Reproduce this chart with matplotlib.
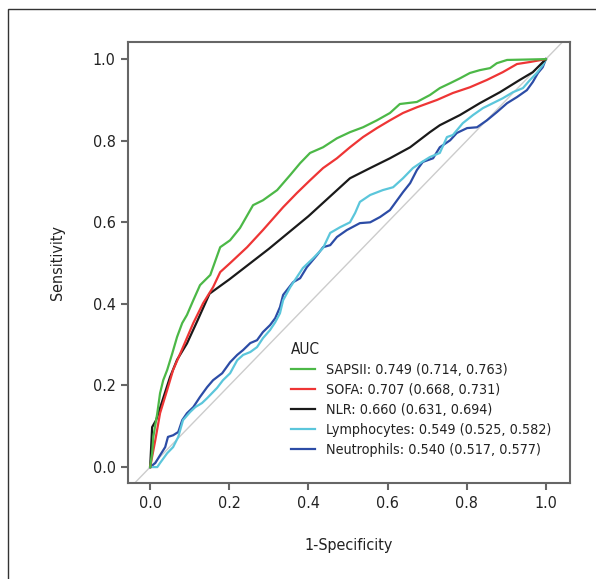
import matplotlib
matplotlib.use("Agg")
import matplotlib.pyplot as plt
from matplotlib.patches import Rectangle

plt.rcParams['font.family'] = ['DejaVu Sans']
plt.rcParams['font.stretch'] = 'condensed'

labels = ["SAPSII: 0.749 (0.714, 0.763)", "SOFA: 0.707 (0.668, 0.731)",
          "NLR: 0.660 (0.631, 0.694)", "Lymphocytes: 0.549 (0.525, 0.582)",
          "Neutrophils: 0.540 (0.517, 0.577)"]
colors = ["#4cb847", "#ee3535", "#1a1a1a", "#5bc6db", "#2c4ca6"]

sapsii_x = [0, 0.005, 0.008, 0.018, 0.025, 0.033, 0.043, 0.056, 0.068, 0.081, 0.093, 0.109, 0.126, 0.152, 0.177, 0.202, 0.227, 0.260, 0.285, 0.321, 0.354, 0.379, 0.404, 0.437, 0.472, 0.505, 0.538, 0.573, 0.606, 0.631, 0.674, 0.707, 0.732, 0.758, 0.783, 0.808, 0.833, 0.859, 0.876, 0.902, 1.0]
sapsii_y = [0, 0.034, 0.074, 0.132, 0.181, 0.213, 0.238, 0.279, 0.319, 0.353, 0.373, 0.409, 0.446, 0.471, 0.539, 0.556, 0.586, 0.642, 0.654, 0.679, 0.716, 0.745, 0.770, 0.784, 0.806, 0.821, 0.833, 0.850, 0.868, 0.890, 0.895, 0.912, 0.929, 0.941, 0.953, 0.966, 0.973, 0.978, 0.990, 0.998, 1.0]

sofa_x = [0, 0.013, 0.025, 0.043, 0.058, 0.083, 0.109, 0.134, 0.159, 0.177, 0.202, 0.245, 0.285, 0.336, 0.371, 0.404, 0.437, 0.472, 0.505, 0.538, 0.573, 0.606, 0.639, 0.674, 0.725, 0.765, 0.808, 0.851, 0.891, 0.927, 0.960, 1.0]
sofa_y = [0, 0.066, 0.132, 0.189, 0.238, 0.294, 0.353, 0.402, 0.441, 0.478, 0.500, 0.539, 0.581, 0.637, 0.672, 0.703, 0.733, 0.757, 0.784, 0.809, 0.831, 0.850, 0.868, 0.882, 0.900, 0.917, 0.931, 0.949, 0.968, 0.988, 0.993, 1.0]

nlr_x = [0, 0.005, 0.015, 0.030, 0.050, 0.068, 0.093, 0.120, 0.150, 0.200, 0.300, 0.400, 0.505, 0.556, 0.606, 0.657, 0.707, 0.732, 0.783, 0.833, 0.884, 0.934, 0.967, 1.0]
nlr_y = [0, 0.098, 0.115, 0.160, 0.220, 0.263, 0.303, 0.360, 0.425, 0.460, 0.535, 0.615, 0.708, 0.733, 0.757, 0.784, 0.821, 0.838, 0.863, 0.892, 0.919, 0.949, 0.968, 1.0]

lym_x = [0, 0.018, 0.025, 0.043, 0.058, 0.071, 0.083, 0.101, 0.114, 0.131, 0.144, 0.169, 0.184, 0.202, 0.220, 0.235, 0.253, 0.270, 0.285, 0.303, 0.316, 0.328, 0.336, 0.354, 0.386, 0.412, 0.437, 0.455, 0.480, 0.505, 0.518, 0.530, 0.556, 0.588, 0.614, 0.639, 0.664, 0.687, 0.707, 0.732, 0.750, 0.765, 0.790, 0.816, 0.841, 0.866, 0.891, 0.917, 0.942, 0.960, 0.977, 0.992, 1.0]
lym_y = [0, 0.0, 0.010, 0.034, 0.049, 0.074, 0.115, 0.135, 0.147, 0.157, 0.169, 0.194, 0.213, 0.230, 0.262, 0.275, 0.282, 0.294, 0.316, 0.336, 0.355, 0.377, 0.409, 0.441, 0.488, 0.512, 0.537, 0.574, 0.588, 0.600, 0.623, 0.650, 0.667, 0.679, 0.686, 0.708, 0.733, 0.748, 0.760, 0.770, 0.809, 0.814, 0.843, 0.863, 0.880, 0.892, 0.904, 0.919, 0.929, 0.949, 0.966, 0.985, 1.0]

neu_x = [0, 0.013, 0.025, 0.038, 0.045, 0.058, 0.071, 0.081, 0.093, 0.109, 0.126, 0.144, 0.159, 0.182, 0.202, 0.220, 0.235, 0.253, 0.270, 0.285, 0.303, 0.316, 0.328, 0.336, 0.361, 0.379, 0.396, 0.422, 0.437, 0.455, 0.472, 0.497, 0.530, 0.556, 0.581, 0.606, 0.624, 0.639, 0.657, 0.674, 0.689, 0.715, 0.732, 0.758, 0.775, 0.801, 0.826, 0.851, 0.876, 0.902, 0.927, 0.952, 0.967, 0.980, 0.992, 1.0]
neu_y = [0, 0.010, 0.029, 0.049, 0.074, 0.078, 0.086, 0.115, 0.132, 0.147, 0.172, 0.196, 0.213, 0.230, 0.257, 0.275, 0.287, 0.304, 0.311, 0.331, 0.348, 0.365, 0.392, 0.422, 0.453, 0.463, 0.490, 0.520, 0.539, 0.544, 0.564, 0.581, 0.598, 0.600, 0.613, 0.630, 0.654, 0.674, 0.696, 0.728, 0.748, 0.757, 0.784, 0.801, 0.819, 0.831, 0.833, 0.850, 0.870, 0.892, 0.907, 0.924, 0.944, 0.966, 0.980, 1.0]

ticks = [0.0, 0.2, 0.4, 0.6, 0.8, 1.0]

fig = plt.figure(figsize=(5.96, 5.79), dpi=100)
fig.patches.append(Rectangle((8/596, -0.1), 1.2, 1 - 9/579 + 0.1, transform=fig.transFigure,
                             fill=False, edgecolor="#333333", linewidth=1.0))
ax = fig.add_axes([128/596, 1 - 483/579, 442/596, 441/579])

xlim = (-0.056, 1.061)
ylim = (-0.039, 1.042)
lo = min(xlim[0], ylim[0]); hi = max(xlim[1], ylim[1])
ax.plot([lo, hi], [lo, hi], color="#cccccc", linewidth=1.0, zorder=1)

series = [(sapsii_x, sapsii_y), (sofa_x, sofa_y), (nlr_x, nlr_y), (lym_x, lym_y), (neu_x, neu_y)]
handles = [None]*5
for i in [4, 3, 2, 1, 0]:
    xs, ys = series[i]
    ln, = ax.plot(xs, ys, color=colors[i], linewidth=1.6, label=labels[i], zorder=2)
    handles[i] = ln

ax.set_xlim(*xlim)
ax.set_ylim(*ylim)
ax.set_xticks(ticks)
ax.set_yticks(ticks)
ax.set_xticklabels([f"{t:.1f}" for t in ticks])
ax.set_yticklabels([f"{t:.1f}" for t in ticks])
for s in ax.spines.values():
    s.set_color("#666666")
    s.set_linewidth(1.5)
ax.tick_params(direction="out", length=5, width=1.5, color="#666666", labelsize=11.5,
               labelcolor="#222222", pad=4)
ax.set_xlabel("1-Specificity", fontsize=11.5, color="#222222", labelpad=20)
ax.set_ylabel("Sensitivity", fontsize=11.5, color="#222222", labelpad=20)

leg = ax.legend(handles=handles, labels=labels, loc="lower left", bbox_to_anchor=(0.368, 0.058),
                frameon=False, title="AUC", alignment="left", fontsize=10.3, title_fontsize=11,
                handlelength=1.7, handletextpad=0.75, labelspacing=0.42, borderaxespad=0.0,
                borderpad=0.0)
leg.get_title().set_color("#222222")
for t in leg.get_texts():
    t.set_color("#222222")

fig.savefig("out.png", dpi=100)
